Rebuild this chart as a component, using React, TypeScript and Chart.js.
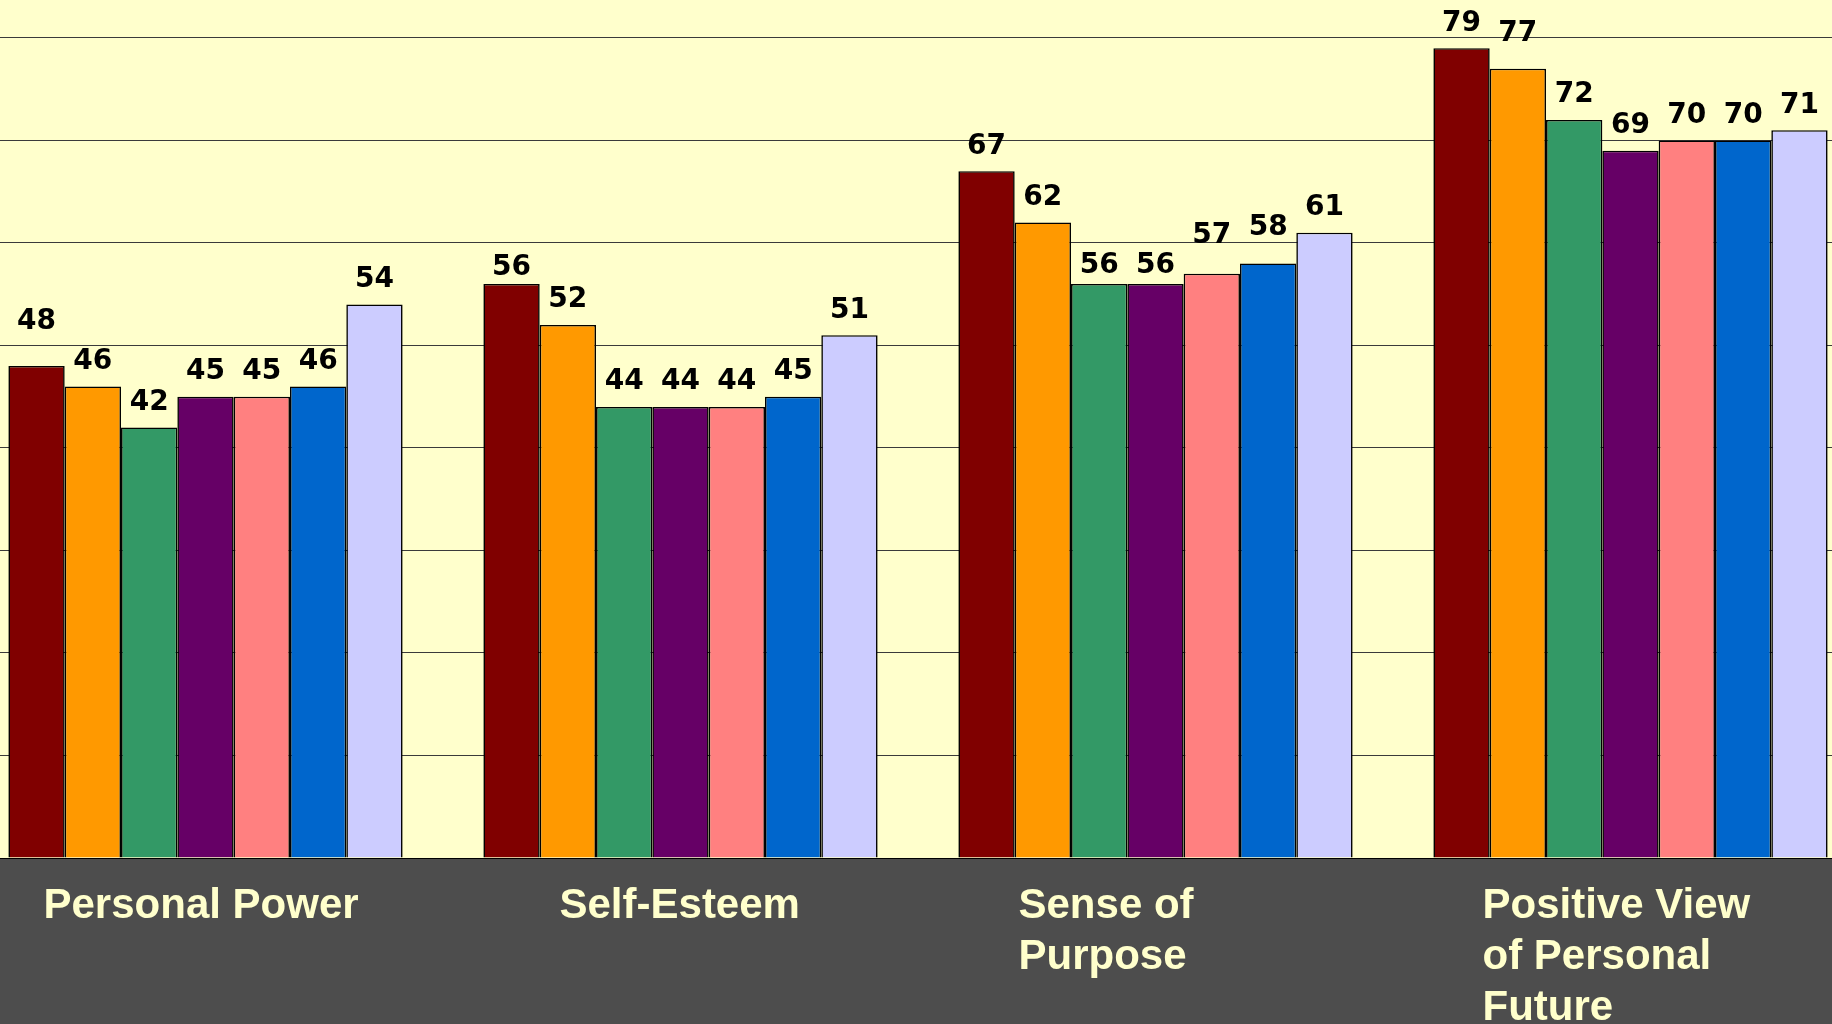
import React, { useEffect, useRef } from "react";
import { Chart, registerables } from "chart.js";

Chart.register(...registerables);

// ---- data ----
const categories: string[][] = [
  ["Personal Power"],
  ["Self-Esteem"],
  ["Sense of", "Purpose"],
  ["Positive View", "of Personal", "Future"],
];
const seriesNames = ["Series 1", "Series 2", "Series 3", "Series 4", "Series 5", "Series 6", "Series 7"];
const series1 = [48, 56, 67, 79];
const series2 = [46, 52, 62, 77];
const series3 = [42, 44, 56, 72];
const series4 = [45, 44, 56, 69];
const series5 = [45, 44, 57, 70];
const series6 = [46, 45, 58, 70];
const series7 = [54, 51, 61, 71];
const allSeries = [series1, series2, series3, series4, series5, series6, series7];
const seriesColors = ["#800000", "#FF9900", "#339966", "#660066", "#FF8080", "#0066CC", "#CCCCFF"];

// ---- label styling (not data) ----
// category label left edge relative to category centre (px)
const labelShift = [-162, -121, -137, -148];
// extra upward nudge of value labels, per series then per category (px)
const labelNudge = [
  [19.5, -9, 0, 0],
  [0, 0, 0, 10],
  [0, 0, -6.5, 0],
  [0, 0, -6.5, 0],
  [0, 0, 13, 0],
  [0, 0, 11, 0],
  [0, 0, 0, 0],
];

const bgPlugin = {
  id: "bgPlugin",
  beforeDraw(chart: any) {
    const { ctx, chartArea, width, height } = chart;
    ctx.save();
    ctx.fillStyle = "#FFFFCC";
    ctx.fillRect(0, 0, width, chartArea.bottom);
    ctx.fillStyle = "#4D4D4D";
    ctx.fillRect(0, chartArea.bottom, width, height - chartArea.bottom);
    ctx.restore();
  },
};

const valueLabelPlugin = {
  id: "valueLabelPlugin",
  afterDatasetsDraw(chart: any) {
    const { ctx } = chart;
    ctx.save();
    ctx.font = "bold 28px 'DejaVu Sans', Verdana, sans-serif";
    ctx.fillStyle = "#000000";
    ctx.textAlign = "center";
    ctx.textBaseline = "alphabetic";
    chart.data.datasets.forEach((ds: any, di: number) => {
      const meta = chart.getDatasetMeta(di);
      meta.data.forEach((bar: any, i: number) => {
        const nudge = (labelNudge[di] && labelNudge[di][i]) || 0;
        ctx.fillText(String(ds.data[i]), bar.x, bar.y - 17.5 - nudge);
      });
    });
    ctx.restore();
  },
};

const categoryLabelPlugin = {
  id: "categoryLabelPlugin",
  afterDraw(chart: any) {
    const { ctx, chartArea } = chart;
    const xScale = chart.scales.x;
    ctx.save();
    ctx.font = "bold 42px 'Liberation Sans', Arial, sans-serif";
    ctx.fillStyle = "#FFFFCC";
    ctx.textAlign = "left";
    ctx.textBaseline = "alphabetic";
    categories.forEach((lines, i) => {
      const cx = xScale.getPixelForValue(i);
      const left = cx + labelShift[i];
      lines.forEach((line, j) => {
        ctx.fillText(line, left, chartArea.bottom + 60 + j * 51);
      });
    });
    ctx.restore();
  },
};

export default function App() {
  const ref = useRef<HTMLCanvasElement | null>(null);

  useEffect(() => {
    if (!ref.current) return;
    const chart = new Chart(ref.current, {
      type: "bar",
      data: {
        labels: categories.map((l) => l.join(" ")),
        datasets: allSeries.map((vals, i) => ({
          label: seriesNames[i],
          data: vals,
          backgroundColor: seriesColors[i],
          borderColor: "#000000",
          borderWidth: 1.6,
          categoryPercentage: 0.83,
          barPercentage: 1.0,
        })),
      },
      options: {
        animation: false,
        responsive: false,
        maintainAspectRatio: false,
        layout: { padding: { left: 0, right: 0, top: 0, bottom: 166 } },
        plugins: {
          legend: { display: false },
          tooltip: { enabled: false },
          title: { display: false },
        },
        scales: {
          x: { display: false },
          y: {
            display: true,
            min: 0,
            max: 83.7,
            border: { display: false },
            grid: {
              drawTicks: false,
              color: (c: any) => (c.tick && c.tick.value === 0 ? "#000000" : "#3a3a3a"),
              lineWidth: 1,
            },
            ticks: { display: false, stepSize: 10, includeBounds: false },
          },
        },
      },
      plugins: [bgPlugin, valueLabelPlugin, categoryLabelPlugin],
    });
    return () => chart.destroy();
  }, []);

  return (
    <div
      style={{
        position: "fixed",
        top: 0,
        left: 0,
        width: 1832,
        height: 1024,
        overflow: "hidden",
        background: "#4D4D4D",
      }}
    >
      <canvas
        ref={ref}
        width={1900}
        height={1024}
        style={{ position: "absolute", left: -32, top: 0, width: 1900, height: 1024 }}
      />
    </div>
  );
}
